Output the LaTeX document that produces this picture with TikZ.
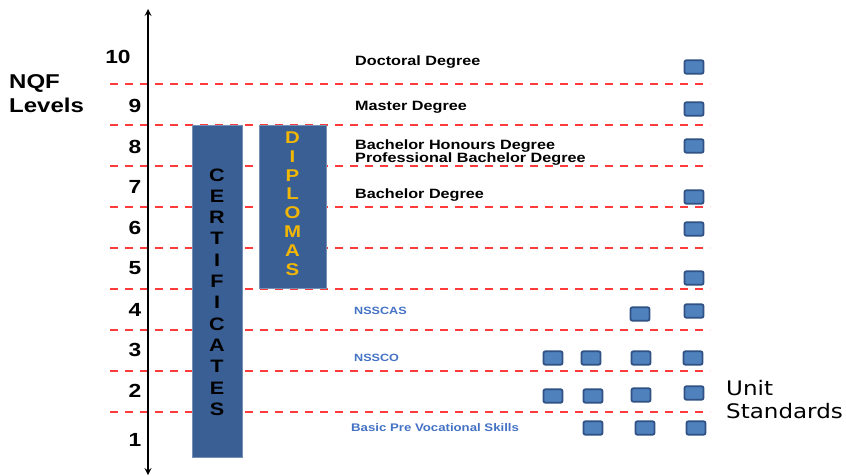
\documentclass[tikz,border=0pt]{standalone}
\usepackage{fontspec}
\setmainfont[FakeStretch=1.2]{Liberation Sans}
\newfontfamily\unitfont[FakeStretch=1.15]{DejaVu Sans}
\definecolor{barblue}{HTML}{3A5F95}
\definecolor{usfill}{HTML}{4F81BD}
\definecolor{usline}{HTML}{2F5184}
\definecolor{qualblue}{HTML}{4472C4}
\definecolor{diplgold}{HTML}{F2B705}
\definecolor{levelred}{HTML}{FF3B3B}
\tikzset{
  levelline/.style={levelred, line width=1.4pt, dash pattern=on 8pt off 7pt},
  bar/.style={fill=barblue, draw=barblue!70!white, line width=0.6pt},
  ustd/.style={rectangle, rounded corners=2pt, fill=usfill, draw=usline, line width=1.8pt,
    minimum width=19pt, minimum height=13.5pt, inner sep=0pt},
  degree/.style={anchor=west, font=\bfseries\fontsize{13.5}{13}\selectfont, align=left, inner sep=0pt},
  school/.style={anchor=west, text=qualblue, font=\bfseries\fontsize{10.5}{12}\selectfont, inner sep=0pt},
}
\begin{document}
\begin{tikzpicture}[x=1pt, y=-1pt]
  \useasboundingbox (0,0) rectangle (846,476);
  % level borders
  \foreach \ly in {84,125,166,207,248,289,330,371,412}
    \draw[levelline] (110,\ly) -- (710,\ly);
  % axis
  \coordinate (axtop) at (148,9);
  \coordinate (axbot) at (148,475);
  \draw[line width=2pt, <->, >=stealth] (axbot) -- (axtop);
  \node (nqf) [anchor=west, align=left, inner sep=0pt, font=\bfseries\fontsize{20}{24}\selectfont] at (9,94) {NQF\\Levels};
  \node (lv10) [font=\bfseries\fontsize{19}{19}\selectfont] at (118,57) {10};
  \foreach \n/\ly in {9/106,8/147,7/187,6/228,5/268,4/310,3/350,2/391,1/440}
    \node (lv\n) [font=\bfseries\fontsize{19}{19}\selectfont] at (135,\ly) {\n};
  % bars
  \draw[bar] (192,125) rectangle (242,457) node (cert) [pos=.5, yshift=-1pt, align=center, font=\bfseries\fontsize{18}{21.3}\selectfont]
    {C\\E\\R\\T\\I\\F\\I\\C\\A\\T\\E\\S};
  \draw[bar] (259,125) rectangle (326,288) node (dipl) [pos=.5, yshift=3pt, align=center, text=diplgold, font=\bfseries\fontsize{17}{18.8}\selectfont]
    {D\\I\\P\\L\\O\\M\\A\\S};
  % qualifications
  \node (doct) [degree] at (355,62) {Doctoral Degree};
  \node (mast) [degree] at (355,107) {Master Degree};
  \node (hons) [degree] at (355,152.5) {Bachelor Honours Degree\\Professional Bachelor Degree};
  \node (bach) [degree] at (355,195) {Bachelor Degree};
  \node (nsscas) [school] at (354,311) {NSSCAS};
  \node (nssco) [school] at (354,358) {NSSCO};
  \node (bpvs) [school, font=\bfseries\fontsize{11}{12}\selectfont] at (351,428) {Basic Pre Vocational Skills};
  % unit standards
  \foreach \ux/\uy [count=\i] in {694/67,694/109,694/146,694/197,694/229,694/278,694/311,
      640/314,553/358,591/358,641/358,693/358,553/396,593/396,641/395,694/393,
      593/428,645/428,696/428}
    \node (us\i) [ustd] at (\ux,\uy) {};
  \node (unit) [anchor=west, align=left, inner sep=0pt, font=\unitfont\fontsize{20}{23}\selectfont] at (726,400) {Unit\\Standards};
\end{tikzpicture}
\end{document}
